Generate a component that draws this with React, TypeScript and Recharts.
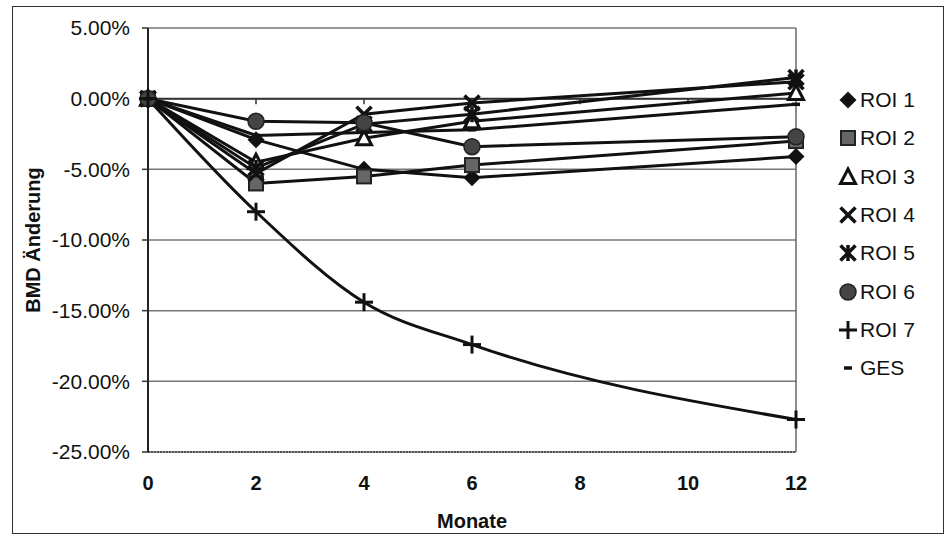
import React from 'react'
import {
  LineChart,
  Line,
  XAxis,
  YAxis,
  CartesianGrid,
  ReferenceLine,
  Legend,
} from 'recharts'

const months = [0, 2, 4, 6, 12]
const roi1 = [0, -2.9, -5.0, -5.6, -4.1]
const roi2 = [0, -6.0, -5.5, -4.7, -3.0]
const roi3 = [0, -4.5, -2.8, -1.6, 0.4]
const roi4 = [0, -5.3, -1.1, -0.3, 1.2]
const roi5 = [0, -4.9, -1.8, -1.1, 1.5]
const roi6 = [0, -1.6, -1.7, -3.4, -2.7]
const roi7 = [0, -8.0, -14.4, -17.4, -22.7]
const ges = [0, -2.6, -2.4, -2.2, -0.4]

const xTicks = [0, 2, 4, 6, 8, 10, 12]
const yTicks = [-25, -20, -15, -10, -5, 0, 5]
const innerTicks = [2, 4, 6, 8, 10]

const series = [
  { key: 'roi1', name: 'ROI 1', values: roi1, shape: 'diamond' },
  { key: 'roi2', name: 'ROI 2', values: roi2, shape: 'square' },
  { key: 'roi3', name: 'ROI 3', values: roi3, shape: 'triangle' },
  { key: 'roi4', name: 'ROI 4', values: roi4, shape: 'x' },
  { key: 'roi5', name: 'ROI 5', values: roi5, shape: 'star' },
  { key: 'roi6', name: 'ROI 6', values: roi6, shape: 'circle' },
  { key: 'roi7', name: 'ROI 7', values: roi7, shape: 'plus' },
  { key: 'ges', name: 'GES', values: ges, shape: 'dash' },
]

const data = months.map((m, i) => {
  const row: Record<string, number> = { month: m }
  series.forEach((s) => {
    row[s.key] = s.values[i]
  })
  return row
})

const FONT = '"Liberation Sans", Arial, sans-serif'
const INK = '#111'

function Marker({ shape, cx, cy }: { shape: string; cx: number; cy: number }) {
  switch (shape) {
    case 'diamond':
      return (
        <polygon
          points={`${cx},${cy - 8.5} ${cx + 8.5},${cy} ${cx},${cy + 8.5} ${cx - 8.5},${cy}`}
          fill={INK}
        />
      )
    case 'square':
      return (
        <rect x={cx - 7} y={cy - 7} width={14} height={14} fill="#666" stroke="#222" strokeWidth={2} />
      )
    case 'triangle':
      return (
        <polygon
          points={`${cx},${cy - 8} ${cx + 7.5},${cy + 6.5} ${cx - 7.5},${cy + 6.5}`}
          fill="#fff"
          stroke={INK}
          strokeWidth={3}
        />
      )
    case 'x':
      return (
        <g stroke={INK} strokeWidth={3.5}>
          <line x1={cx - 7.5} y1={cy - 7.5} x2={cx + 7.5} y2={cy + 7.5} />
          <line x1={cx - 7.5} y1={cy + 7.5} x2={cx + 7.5} y2={cy - 7.5} />
        </g>
      )
    case 'star':
      return (
        <g stroke={INK} strokeWidth={3.5}>
          <line x1={cx - 7.5} y1={cy - 7.5} x2={cx + 7.5} y2={cy + 7.5} />
          <line x1={cx - 7.5} y1={cy + 7.5} x2={cx + 7.5} y2={cy - 7.5} />
          <line x1={cx} y1={cy - 8} x2={cx} y2={cy + 8} />
        </g>
      )
    case 'circle':
      return <circle cx={cx} cy={cy} r={8} fill="#444" stroke="#222" strokeWidth={1.5} />
    case 'plus':
      return (
        <g stroke={INK} strokeWidth={3}>
          <line x1={cx - 9} y1={cy} x2={cx + 9} y2={cy} />
          <line x1={cx} y1={cy - 9} x2={cx} y2={cy + 9} />
        </g>
      )
    default:
      return <line x1={cx - 4} y1={cy} x2={cx + 4} y2={cy} stroke={INK} strokeWidth={3.5} />
  }
}

function LegendBox() {
  return (
    <div style={{ fontFamily: FONT, fontSize: 21, color: INK }}>
      {series.map((s) => (
        <div key={s.key} style={{ display: 'flex', alignItems: 'center', height: 38.3 }}>
          <svg width={22} height={22} style={{ marginRight: 1 }}>
            <Marker shape={s.shape} cx={11} cy={11} />
          </svg>
          <span>{s.name}</span>
        </div>
      ))}
    </div>
  )
}

export default function App() {
  return (
    <div style={{ position: 'absolute', left: 0, top: 0, width: 946, height: 539, background: '#fff' }}>
      <div
        style={{
          position: 'absolute',
          left: 12,
          top: 6,
          width: 930,
          height: 526,
          border: '1.5px solid #333',
        }}
      />
      <LineChart
        width={946}
        height={539}
        data={data}
        margin={{ top: 28, right: 40, left: 0, bottom: 0 }}
        style={{ position: 'absolute', left: 0, top: 0 }}
      >
        <CartesianGrid vertical={false} stroke="#777" strokeWidth={1.5} />
        <XAxis
          dataKey="month"
          type="number"
          domain={[0, 12]}
          ticks={xTicks}
          height={87}
          tickLine={false}
          tickSize={6}
          tickMargin={18}
          axisLine={{ stroke: '#555', strokeWidth: 2, strokeDasharray: '2 1' }}
          tick={{ fontSize: 20, fontWeight: 'bold', fill: INK, fontFamily: FONT }}
          label={{
            content: (p: any) => (
              <text
                x={p.viewBox.x + p.viewBox.width / 2}
                y={p.viewBox.y + 76}
                textAnchor="middle"
                fontFamily={FONT}
                fontSize={20}
                fontWeight="bold"
                fill={INK}
              >
                Monate
              </text>
            ),
          }}
        />
        <YAxis
          type="number"
          domain={[-25, 5]}
          ticks={yTicks}
          width={148}
          tickSize={6}
          tickMargin={12}
          tickLine={{ stroke: '#333', strokeWidth: 1.5 }}
          axisLine={{ stroke: '#222', strokeWidth: 2 }}
          tickFormatter={(v: number) => `${v.toFixed(2)}%`}
          tick={{ fontSize: 21, fill: INK, fontFamily: FONT }}
          label={{
            content: (p: any) => {
              const x = p.viewBox.x + 33
              const y = p.viewBox.y + p.viewBox.height / 2
              return (
                <text
                  x={x}
                  y={y}
                  transform={`rotate(-90 ${x} ${y})`}
                  textAnchor="middle"
                  dominantBaseline="central"
                  fontFamily={FONT}
                  fontSize={20}
                  fontWeight="bold"
                  fill={INK}
                >
                  BMD Änderung
                </text>
              )
            },
          }}
        />
        <ReferenceLine y={0} stroke="#333" strokeWidth={2} />
        <ReferenceLine x={12} stroke="#666" strokeWidth={1.5} />
        {innerTicks.map((t) => (
          <ReferenceLine
            key={t}
            segment={[
              { x: t, y: 0 },
              { x: t, y: -0.4 },
            ]}
            stroke="#333"
            strokeWidth={1.5}
          />
        ))}
        {series.map((s) => (
          <Line
            key={s.key}
            dataKey={s.key}
            name={s.name}
            type={s.key === 'roi7' ? 'monotone' : 'linear'}
            stroke={INK}
            strokeWidth={3}
            isAnimationActive={false}
            dot={(p: any) => <Marker key={`${s.key}-${p.index}`} shape={s.shape} cx={p.cx} cy={p.cy} />}
            activeDot={false}
          />
        ))}
        <Legend
          layout="vertical"
          align="right"
          verticalAlign="top"
          content={() => <LegendBox />}
          wrapperStyle={{ position: 'absolute', left: 837, top: 81, width: 110 }}
        />
      </LineChart>
    </div>
  )
}
